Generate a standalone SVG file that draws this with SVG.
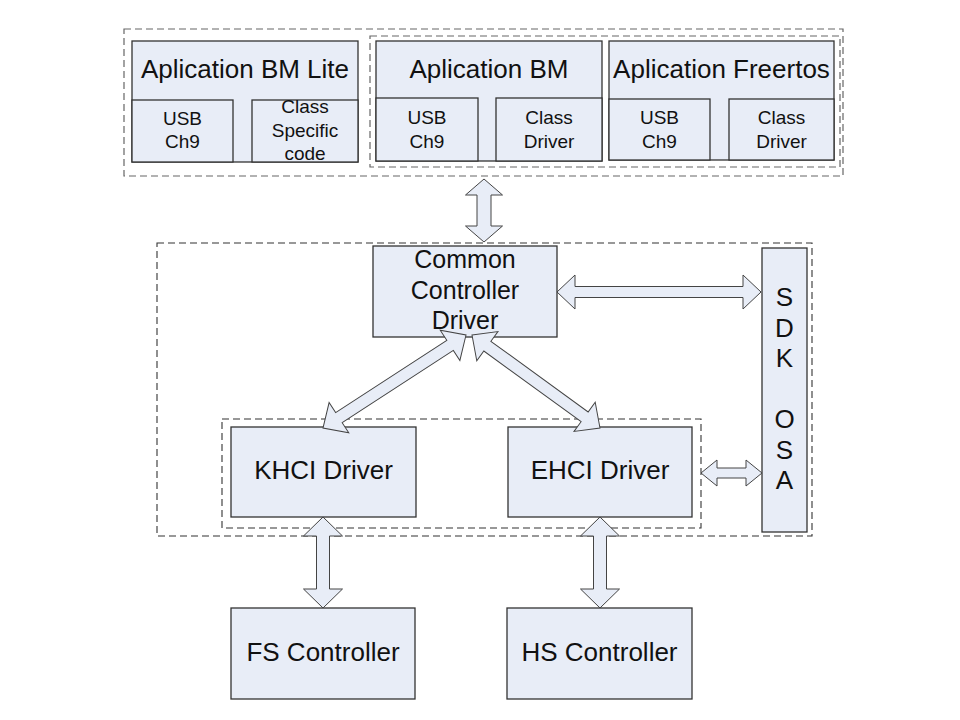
<svg xmlns="http://www.w3.org/2000/svg" width="960" height="720" viewBox="0 0 960 720">
<style>
.box{fill:#E8EDF7;stroke:#333;stroke-width:1.3}
.dash{fill:none;stroke:#666;stroke-width:1.2;stroke-dasharray:7 4}
.dash2{fill:none;stroke:#333;stroke-width:1.1;stroke-dasharray:7 4}
.arr{fill:#E8EDF7;stroke:#444;stroke-width:1}
text{font-family:"Liberation Sans",Arial,sans-serif;fill:#111;text-anchor:middle}
.big{font-size:26px}
.mid{font-size:25px}
.sm{font-size:19px}
</style>
<rect width="960" height="720" fill="#fff"/>
<g id="frames">
<rect class="dash" x="124" y="29" width="719" height="147"/>
<rect class="dash" x="370" y="36" width="470" height="131"/>
<rect class="dash2" x="157" y="243" width="655" height="293"/>
<rect class="dash2" x="222" y="419" width="479" height="109"/>
</g>
<g id="app-bm-lite">
<rect class="box" x="132" y="41" width="226" height="121"/>
<text class="big" x="245" y="78">Aplication BM Lite</text>
<rect class="box" x="132" y="100" width="101" height="62"/>
<text class="sm" x="182.5" y="125">USB</text>
<text class="sm" x="182.5" y="148">Ch9</text>
<rect class="box" x="252" y="100" width="106" height="62"/>
<text class="sm" x="305" y="113">Class</text>
<text class="sm" x="305" y="137">Specific</text>
<text class="sm" x="305" y="160">code</text>
</g>
<g id="app-bm">
<rect class="box" x="376" y="41" width="226" height="120"/>
<text class="big" x="489" y="78">Aplication BM</text>
<rect class="box" x="376" y="98" width="102" height="63"/>
<text class="sm" x="427" y="124">USB</text>
<text class="sm" x="427" y="148">Ch9</text>
<rect class="box" x="496" y="98" width="106" height="63"/>
<text class="sm" x="549" y="124">Class</text>
<text class="sm" x="549" y="148">Driver</text>
</g>
<g id="app-freertos">
<rect class="box" x="609" y="41" width="225" height="119"/>
<text class="big" x="721.5" y="78">Aplication Freertos</text>
<rect class="box" x="609" y="99" width="101" height="61"/>
<text class="sm" x="659.5" y="124">USB</text>
<text class="sm" x="659.5" y="148">Ch9</text>
<rect class="box" x="729" y="99" width="105" height="61"/>
<text class="sm" x="781.5" y="124">Class</text>
<text class="sm" x="781.5" y="148">Driver</text>
</g>
<g id="common-controller-driver">
<rect class="box" x="373" y="246" width="184" height="91"/>
<text class="mid" x="465" y="268">Common</text>
<text class="mid" x="465" y="299">Controller</text>
<text class="mid" x="465" y="329">Driver</text>
</g>
<g id="sdk-osa">
<rect class="box" x="762" y="248" width="45" height="284"/>
<text class="big" x="784.5" y="306">S</text>
<text class="big" x="784.5" y="336.5">D</text>
<text class="big" x="784.5" y="367">K</text>
<text class="big" x="784.5" y="428">O</text>
<text class="big" x="784.5" y="458.5">S</text>
<text class="big" x="784.5" y="489">A</text>
</g>
<g id="khci-driver">
<rect class="box" x="231" y="427" width="185" height="90"/>
<text class="big" x="323.5" y="479">KHCI Driver</text>
</g>
<g id="ehci-driver">
<rect class="box" x="508" y="427" width="184" height="90"/>
<text class="big" x="600" y="479">EHCI Driver</text>
</g>
<g id="fs-controller">
<rect class="box" x="231" y="608" width="184" height="91"/>
<text class="big" x="323" y="661">FS Controller</text>
</g>
<g id="hs-controller">
<rect class="box" x="507" y="608" width="185" height="91"/>
<text class="big" x="599.5" y="661">HS Controller</text>
</g>
<g id="connectors">
<polygon class="arr" transform="translate(484,179) rotate(90)" points="0,0 16,-18.5 16,-7 47,-7 47,-18.5 63,0 47,18.5 47,7 16,7 16,18.5"/>
<polygon class="arr" transform="translate(557,292)" points="0,0 18,-17 18,-5.5 186,-5.5 186,-17 204,0 186,17 186,5.5 18,5.5 18,17"/>
<polygon class="arr" transform="translate(466,335) rotate(146.96)" points="0,0 19,-18 19,-6 151.6,-6 151.6,-18 170.6,0 151.6,18 151.6,6 19,6 19,18"/>
<polygon class="arr" transform="translate(472,335) rotate(36)" points="0,0 19,-18 19,-6 139.2,-6 139.2,-18 158.2,0 139.2,18 139.2,6 19,6 19,18"/>
<polygon class="arr" transform="translate(701,473)" points="0,0 16,-13 16,-5 45,-5 45,-13 61,0 45,13 45,5 16,5 16,13"/>
<polygon class="arr" transform="translate(323,517) rotate(90)" points="0,0 19,-19.5 19,-6.5 72,-6.5 72,-19.5 91,0 72,19.5 72,6.5 19,6.5 19,19.5"/>
<polygon class="arr" transform="translate(600,517) rotate(90)" points="0,0 19,-19.5 19,-6.5 72,-6.5 72,-19.5 91,0 72,19.5 72,6.5 19,6.5 19,19.5"/>
</g>
</svg>
